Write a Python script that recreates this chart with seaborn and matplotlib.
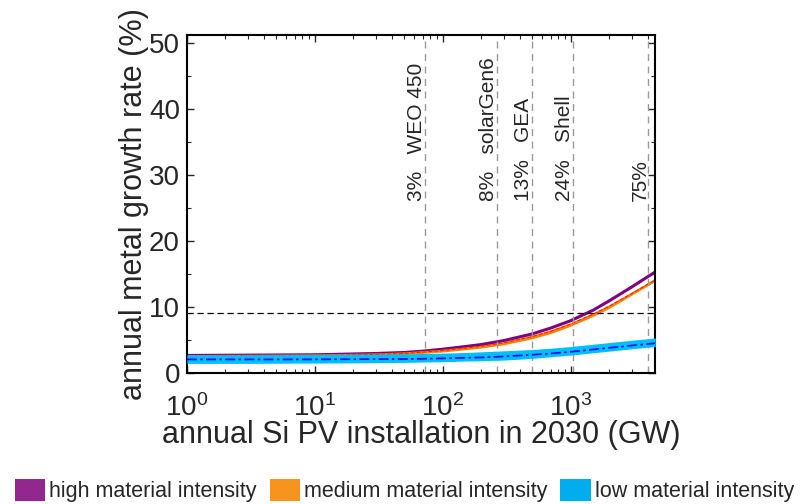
import numpy as np
import pandas as pd
import matplotlib
matplotlib.use('Agg')
import matplotlib.pyplot as plt
import matplotlib.ticker as mticker
from matplotlib.patches import Patch
import seaborn as sns

# installation (GW) sample points
installation = [1, 3, 10, 30, 50, 70, 100, 150, 200, 300, 500, 700, 1000, 1500, 2000, 3000, 4600]

# growth rates (%)
high_rate = [2.65, 2.7, 2.75, 2.95, 3.1, 3.3, 3.6, 4.0, 4.3, 4.9, 5.9, 6.8, 7.9, 9.5, 10.9, 13.0, 15.3]
medium_hi = [2.6, 2.65, 2.7, 2.85, 3.05, 3.25, 3.5, 3.9, 4.2, 4.75, 5.7, 6.55, 7.6, 9.1, 10.3, 12.2, 14.2]
medium_rate = [2.5, 2.55, 2.6, 2.75, 2.9, 3.1, 3.3, 3.65, 3.9, 4.4, 5.3, 6.1, 7.2, 8.7, 9.9, 11.9, 14.0]
medium_mid = [2.55, 2.6, 2.65, 2.8, 2.95, 3.15, 3.4, 3.75, 4.05, 4.55, 5.5, 6.3, 7.4, 8.9, 10.1, 12.0, 14.1]
low_top = [2.75, 2.75, 2.8, 2.85, 2.9, 2.95, 3.0, 3.1, 3.2, 3.35, 3.55, 3.75, 4.0, 4.35, 4.6, 4.95, 5.3]
low_bottom = [1.45, 1.45, 1.5, 1.55, 1.6, 1.65, 1.7, 1.8, 1.85, 1.95, 2.2, 2.45, 2.7, 3.05, 3.3, 3.65, 4.0]
low_rate = [2.05, 2.05, 2.05, 2.1, 2.1, 2.15, 2.2, 2.3, 2.35, 2.5, 2.75, 2.95, 3.2, 3.55, 3.8, 4.15, 4.5]

# scenarios
scenario_gw = [73, 266, 500, 1050, 4070]
scenario_pct = ['3%', '8%', '13%', '24%', '75%']
scenario_names = ['WEO 450', 'solarGen6', 'GEA', 'Shell', '']
threshold = 9.1

legend_labels = ['high material intensity', 'medium material intensity', 'low material intensity']
legend_colors = ['#92278f', '#f7941d', '#00aeef']

sns.set_theme(style="ticks")
plt.rcParams['font.family'] = ['Liberation Sans', 'DejaVu Sans']

df = pd.DataFrame({'gw': installation, 'high': high_rate, 'medium': medium_rate,
                   'medium_mid': medium_mid, 'low': low_rate})

fig = plt.figure(figsize=(8.09, 5.04), dpi=100)
ax = fig.add_axes([0.231, 0.26, 0.579, 0.671])

# high
sns.lineplot(data=df, x='gw', y='high', ax=ax, color='#800080', lw=2.2)

# medium band
ax.fill_between(df['gw'], medium_rate, medium_hi, color='#ff8000', lw=0)
sns.lineplot(data=df, x='gw', y='medium', ax=ax, color='#ff7f00', lw=2)
sns.lineplot(data=df, x='gw', y='medium_mid', ax=ax, color='#e03000', lw=0.8, linestyle='--')

# low band (drawn on top)
ax.fill_between(df['gw'], low_bottom, low_top, color='#00bfff', lw=0, zorder=3)
sns.lineplot(data=df, x='gw', y='low', ax=ax, color='#0000ff', lw=1.2,
             linestyle=(0, (6, 2, 1.5, 2)), zorder=4)

for gw, pct, name in zip(scenario_gw, scenario_pct, scenario_names):
    ax.axvline(gw, color='#999999', lw=1, linestyle=(0, (5, 4)))
    label = pct + '   ' + name if name else pct
    ax.text(gw * 1.02, 26, label, rotation=90, ha='right', va='bottom', fontsize=15)

ax.axhline(threshold, color='black', lw=0.9, linestyle=(0, (5, 3)))

ax.set_xscale('log')
ax.set_xlim(1, 4600)
ax.set_ylim(0, 51.2)
ax.set_yticks([0, 10, 20, 30, 40, 50])
ax.yaxis.set_minor_locator(mticker.MultipleLocator(5))
ax.xaxis.set_major_locator(mticker.LogLocator(base=10))
ax.xaxis.set_minor_locator(mticker.LogLocator(base=10, subs=np.arange(2, 10)))
ax.xaxis.set_minor_formatter(mticker.NullFormatter())
ax.tick_params(axis='both', which='major', direction='in', length=5, width=1,
               labelsize=20, top=True, right=True)
ax.tick_params(axis='x', which='major', pad=15)
ax.tick_params(axis='y', which='major', pad=5)
ax.tick_params(axis='both', which='minor', direction='in', length=3, width=0.8,
               top=True, right=True)
for s in ax.spines.values():
    s.set_linewidth(1.5)
    s.set_color('black')

ax.set_xlabel('annual Si PV installation in 2030 (GW)', fontsize=22, labelpad=-1)
ax.set_ylabel('annual metal growth rate (%)', fontsize=22, labelpad=0)

handles = [Patch(facecolor=c, edgecolor='none') for c in legend_colors]
fig.legend(handles, legend_labels, loc='lower center', bbox_to_anchor=(0.5, -0.035),
           ncol=3, frameon=False, fontsize=15.5, handlelength=1.4, handleheight=1.2,
           handletextpad=0.2, columnspacing=0.6)

fig.savefig('out.png', dpi=100)
